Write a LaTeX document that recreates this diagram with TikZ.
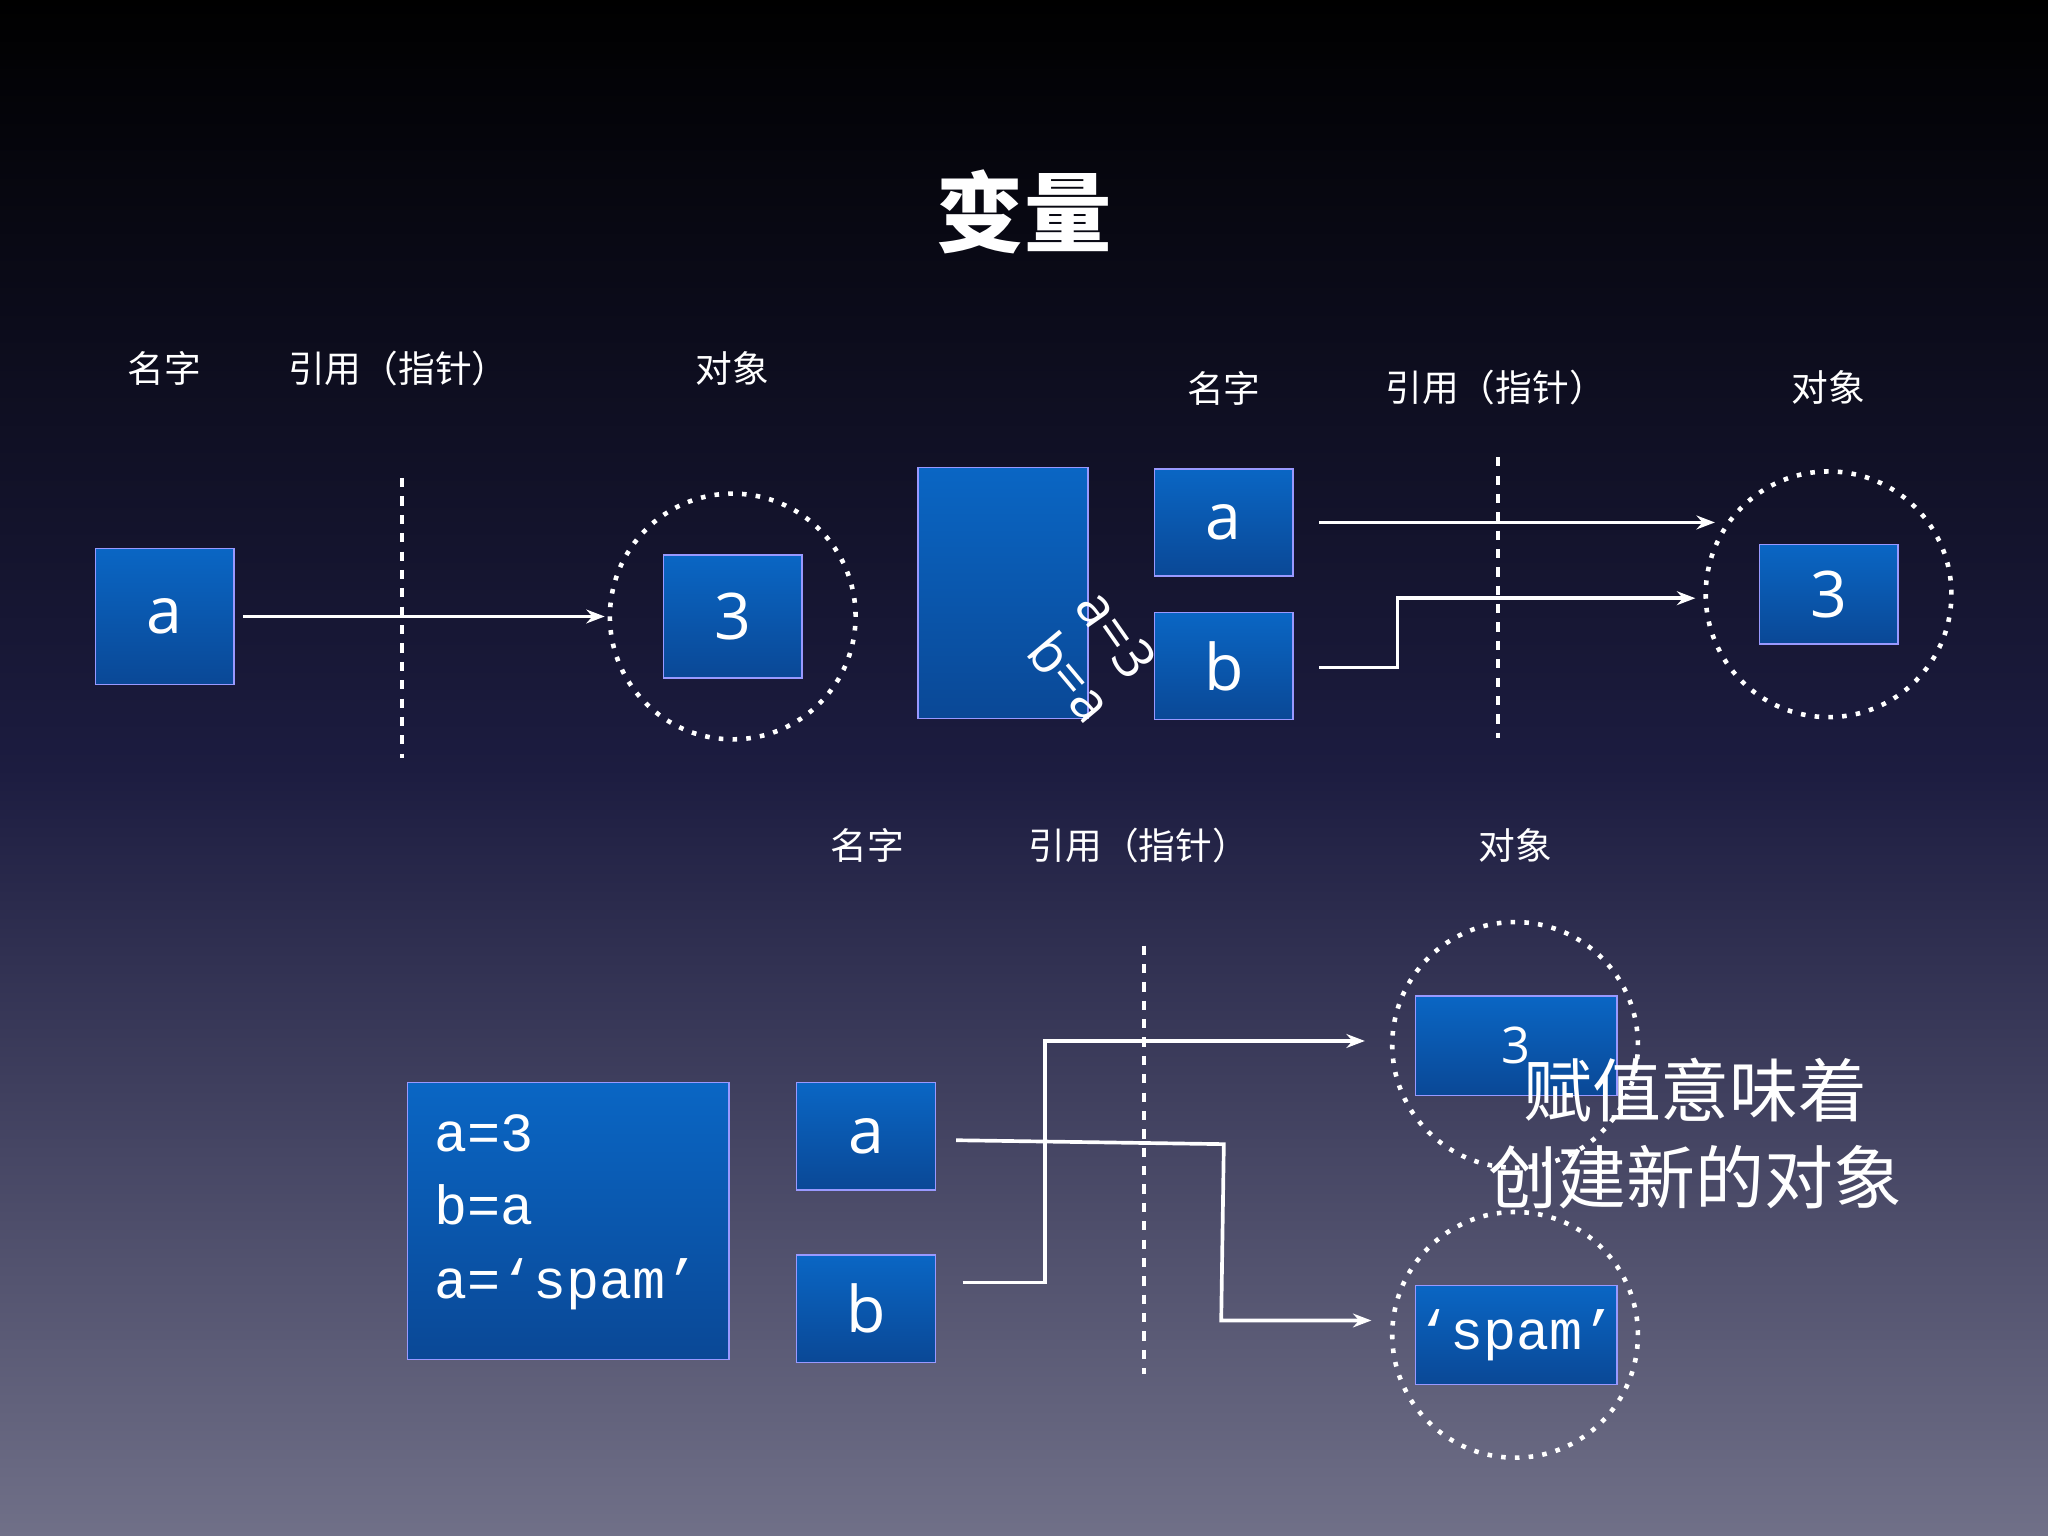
\documentclass[tikz,border=0pt]{standalone}
\usepackage{fontspec}
\usetikzlibrary{arrows.meta}
\setmainfont{Open Sans}
\newfontfamily\cjk{Noto Sans CJK SC}
\newfontfamily\mono{Liberation Mono}
\begin{document}
\begin{tikzpicture}[x=0.01cm,y=-0.01cm,
  bx/.style={draw=blue!40!white,line width=0.3pt,top color={rgb,255:red,10;green,102;blue,196},bottom color={rgb,255:red,10;green,72;blue,150},inner sep=0},
  lbl/.style={text=white,font=\cjk\fontsize{8}{10}\selectfont},
  let/.style={text=white,font=\fontsize{14}{16}\selectfont},
  arr/.style={white,line width=0.8pt,-{Stealth[length=4pt]}},
  vd/.style={white,line width=0.8pt,dash pattern=on 2pt off 2pt},
  circ/.style={draw=white,dotted,line width=1pt,circle}]
\shade[top color=black,bottom color={rgb,255:red,112;green,112;blue,136},middle color={rgb,255:red,28;green,28;blue,64}] (0,0) rectangle (1568,1176);
\useasboundingbox (0,0) rectangle (1568,1176);
\node[text=white,font=\cjk\fontsize{19}{22}\selectfont\bfseries] (title) at (784,162) {变量};
% panel 1
\node[lbl] (n1) at (126,282) {名字};
\node[lbl] (r1) at (305,282) {引用（指针）};
\node[lbl] (o1) at (561,282) {对象};
\node[bx,minimum width=1.06cm,minimum height=1.04cm,let] (a1) at (126,472) {a};
\node[circ,minimum size=1.88cm] (c1) at (561,472) {};
\node[bx,minimum width=1.06cm,minimum height=0.94cm,let] (t1) at (561,472) {3};
\coordinate (d1a) at (308,366); \coordinate (d1b) at (308,580);
\draw[vd] (d1a) -- (d1b);
\coordinate (p1) at (186,472); \coordinate (p1e) at (463,472);
\draw[arr] (p1) -- (p1e);
% panel 2
\node[lbl] (n2) at (937,297) {名字};
\node[lbl] (r2) at (1145,297) {引用（指针）};
\node[lbl] (o2) at (1400,297) {对象};
\node[bx,minimum width=1.30cm,minimum height=1.92cm] (code2) at (768,454) {};
\node[text=white,font=\fontsize{12}{14}\selectfont,rotate=-55] (s1) at (855,485) {a=3};
\node[bx,minimum width=1.06cm,minimum height=0.82cm,let] (a2) at (937,400) {a};
\node[bx,minimum width=1.06cm,minimum height=0.82cm,let] (b2) at (937,510) {b};
\node[text=white,font=\fontsize{12}{14}\selectfont,rotate=-50] (s2) at (820,518) {b=a};
\node[circ,minimum size=1.88cm] (c2) at (1400,455) {};
\node[bx,minimum width=1.06cm,minimum height=0.76cm,let] (t2) at (1400,455) {3};
\coordinate (d2a) at (1147,350); \coordinate (d2b) at (1147,565);
\draw[vd] (d2a) -- (d2b);
\coordinate (q1) at (1010,400); \coordinate (q1e) at (1313,400);
\draw[arr] (q1) -- (q1e);
\coordinate (q2) at (1010,511); \coordinate (q2e) at (1298,458);
\draw[arr] (q2) -- (1070,511) -- (1070,458) -- (q2e);
% panel 3
\node[lbl] (n3) at (664,647) {名字};
\node[lbl] (r3) at (872,647) {引用（指针）};
\node[lbl] (o3) at (1160,647) {对象};
\node[bx,minimum width=2.46cm,minimum height=2.12cm] (code3) at (435,935) {};
\node[text=white,align=left,anchor=west,font=\mono\fontsize{12}{16}\selectfont] (codet) at (320,928) {\mono a=3\\\mono b=a\\\mono a=\textquoteleft spam\textquoteright};
\node[bx,minimum width=1.06cm,minimum height=0.82cm,let] (a3) at (663,870) {a};
\node[bx,minimum width=1.06cm,minimum height=0.82cm,let] (b3) at (663,1002) {b};
\node[circ,minimum size=1.88cm] (c3) at (1160,800) {};
\node[bx,minimum width=1.54cm,minimum height=0.76cm,text=white,font=\fontsize{11}{12}\selectfont,anchor=north] (t3) at (1161,762) {3};
\node[circ,minimum size=1.88cm] (c4) at (1160,1022) {};
\node[bx,minimum width=1.54cm,minimum height=0.76cm,text=white,font=\mono\fontsize{12}{14}\selectfont] (t4) at (1161,1022) {\textquoteleft spam\textquoteright};
\coordinate (d3a) at (876,724); \coordinate (d3b) at (876,1052);
\draw[vd] (d3a) -- (d3b);
\coordinate (u1) at (737,982); \coordinate (u1e) at (1045,797);
\draw[arr] (u1) -- (800,982) -- (800,797) -- (u1e);
\coordinate (u2) at (732,873); \coordinate (u2e) at (1050,1011);
\draw[arr] (u2) -- (937,876) -- (935,1011) -- (u2e);
\node[text=white,font=\cjk\fontsize{15}{19}\selectfont,align=center] (msg) at (1298,868) {赋值意味着\\创建新的对象};
\end{tikzpicture}
\end{document}
